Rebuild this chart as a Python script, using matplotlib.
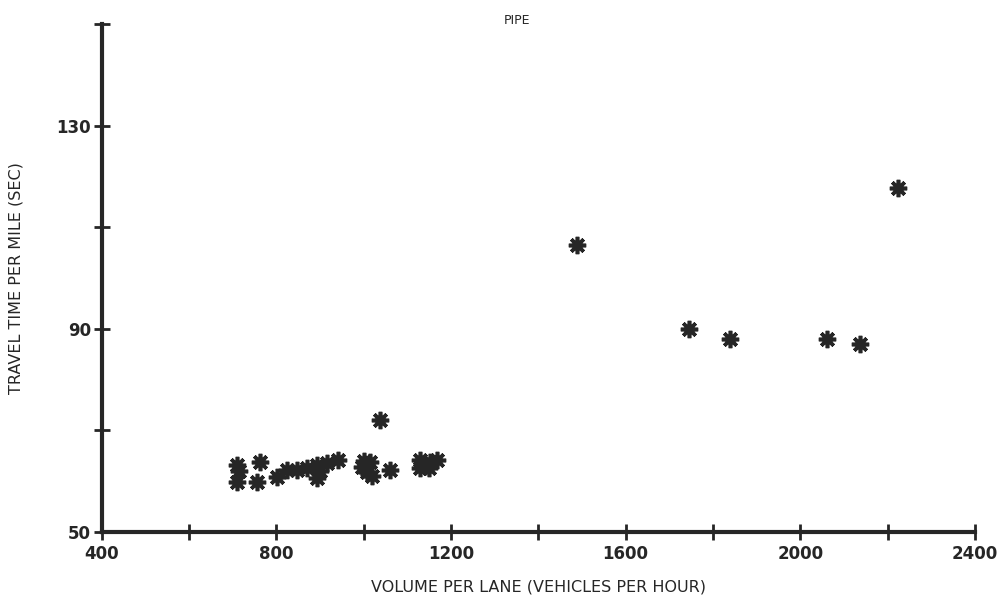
import matplotlib
matplotlib.use("Agg")
import matplotlib.pyplot as plt

# volume per lane (veh/h) and travel time per mile (sec)
volume = [710, 763, 710, 755, 801, 824, 847, 870, 893, 893, 916, 942,
          996, 1015, 1007, 1061, 1129, 1152, 1168, 715, 1140, 1020, 1000,
          900, 1130, 1150, 1038,
          1489, 1746, 1839, 2062, 2137, 2224]
travel_time = [63.2, 63.8, 59.9, 59.9, 60.8, 62.2, 62.2, 62.6, 63.2, 60.6, 63.6, 64.2,
               62.8, 63.8, 61.9, 62.2, 64.2, 63.8, 64.2, 62.0, 63.0, 61.0, 64.0,
               62.0, 62.5, 62.5, 72.0,
               106.5, 89.9, 88.0, 88.0, 87.0, 117.7]

x_ticks = list(range(400, 2401, 200))
x_labels = [str(v) if v % 400 == 0 else "" for v in x_ticks]
y_ticks = list(range(50, 151, 20))
y_labels = [str(v) if v in (50, 90, 130) else "" for v in y_ticks]

ink = "#262626"

fig = plt.figure(figsize=(10.01, 5.98), dpi=100)
ax = fig.add_axes([0.1014, 0.1104, 0.8726, 0.8496])

# asterisk-like plotter symbol: 8 spokes over a small dark core
ax.plot(volume, travel_time, linestyle="none", marker=(8, 2, 0),
        markersize=12.5, markeredgewidth=2.6, color=ink, clip_on=False)
ax.plot(volume, travel_time, linestyle="none", marker="o",
        markersize=5, color=ink, clip_on=False)

ax.set_xlim(400, 2400)
ax.set_ylim(50, 150)
ax.set_xticks(x_ticks)
ax.set_xticklabels(x_labels)
ax.set_yticks(y_ticks)
ax.set_yticklabels(y_labels)

for side in ("top", "right"):
    ax.spines[side].set_visible(False)
for side in ("left", "bottom"):
    ax.spines[side].set_linewidth(3)
    ax.spines[side].set_color(ink)

ax.tick_params(direction="inout", length=11, width=2, color=ink,
               labelsize=12, labelcolor=ink, pad=2)
ax.tick_params(axis="x", pad=4)
for lbl in ax.get_xticklabels() + ax.get_yticklabels():
    lbl.set_fontweight("bold")

ax.set_xlabel("VOLUME PER LANE (VEHICLES PER HOUR)", fontsize=11.5,
              color=ink, labelpad=12)
ax.set_ylabel("TRAVEL TIME PER MILE (SEC)", fontsize=11.5,
              color=ink, labelpad=24)
fig.text(0.516, 0.965, "PIPE", fontsize=9, color=ink, ha="center", va="center")

fig.savefig("out.png", dpi=100, facecolor="white")
